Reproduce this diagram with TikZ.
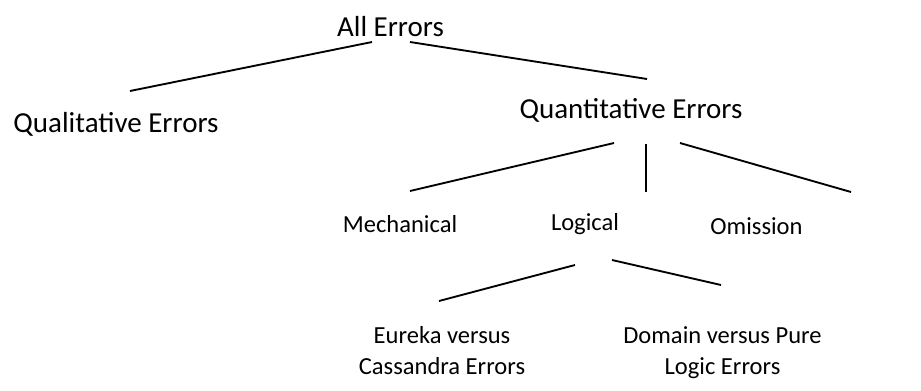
\documentclass[tikz,border=0pt]{standalone}
\usepackage{fontspec}
\setmainfont{Carlito}
\usepackage{tikz}
\tikzset{
  bigtext/.style={inner sep=0pt,anchor=base,font=\fontsize{21.75}{23.25}\selectfont},
  smalltext/.style={inner sep=0pt,anchor=base,align=center,font=\fontsize{18.4}{23.25}\selectfont},
  branch/.style={line width=1.4pt}
}

\begin{document}
\begin{tikzpicture}[x=0.75pt,y=0.75pt]
  \useasboundingbox (0,0) rectangle (921,-390);
  \node[bigtext] (all) at (390.5,-36) {All Errors};
  \node[bigtext] (qual) at (116,-132) {Qualitative Errors};
  \node[bigtext] (quant) at (631,-118) {Quantitative Errors};
	\node[smalltext] (mech) at (400,-232) {Mechanical};
	\node[smalltext] (logi) at (585,-230) {Logical};
	\node[smalltext] (omis) at (756.5,-234) {Omission};
	\node[smalltext] (eur) at (442,-374) {Eureka versus\\Cassandra Errors};
	\node[smalltext] (dom) at (722.5,-374) {Domain versus Pure\\Logic Errors};
  \draw[branch] ([shift={(-18.5,-6)}]all.base) -- ([shift={(14,41)}]qual.base);
  \draw[branch] ([shift={(19.5,-6)}]all.base) -- ([shift={(16,39)}]quant.base);
  \draw[branch] ([shift={(-17,-25)}]quant.base) -- ([shift={(10,41)}]mech.base);
  \draw[branch] ([shift={(15,-26)}]quant.base) -- ([shift={(61,38)}]logi.base);
  \draw[branch] ([shift={(49,-25)}]quant.base) -- ([shift={(94.5,42)}]omis.base);
  \draw[branch] ([shift={(-10,-35)}]logi.base) -- ([shift={(-3,73)}]eur.base);
  \draw[branch] ([shift={(27,-30)}]logi.base) -- ([shift={(-1.5,89)}]dom.base);
\end{tikzpicture}
\end{document}
